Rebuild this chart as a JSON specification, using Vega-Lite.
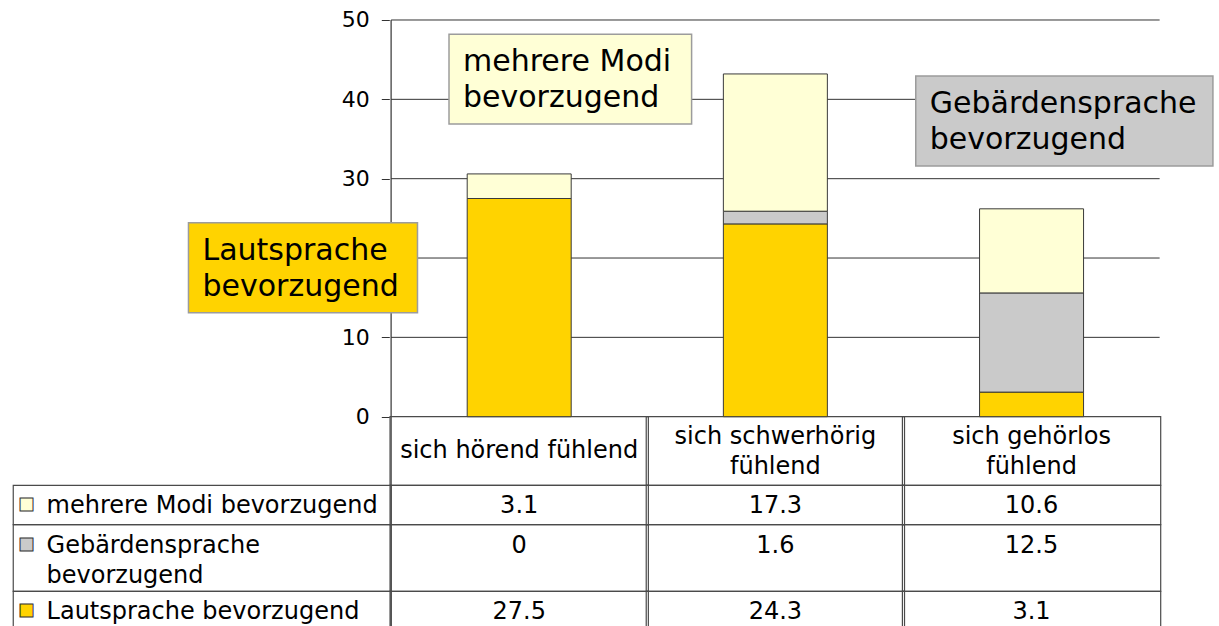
{
  "$schema": "https://vega.github.io/schema/vega-lite/v6.json",
  "width": 1219,
  "height": 626,
  "autosize": {"type": "none"},
  "padding": 0,
  "background": "white",
  "config": {"view": {"stroke": null}, "font": "DejaVu Sans"},
  "datasets": {
    "werte": [
      {"gruppe": "sich hörend fühlend", "reihe": "Lautsprache bevorzugend", "wert": 27.5},
      {"gruppe": "sich hörend fühlend", "reihe": "Gebärdensprache bevorzugend", "wert": 0},
      {"gruppe": "sich hörend fühlend", "reihe": "mehrere Modi bevorzugend", "wert": 3.1},
      {"gruppe": "sich schwerhörig fühlend", "reihe": "Lautsprache bevorzugend", "wert": 24.3},
      {"gruppe": "sich schwerhörig fühlend", "reihe": "Gebärdensprache bevorzugend", "wert": 1.6},
      {"gruppe": "sich schwerhörig fühlend", "reihe": "mehrere Modi bevorzugend", "wert": 17.3},
      {"gruppe": "sich gehörlos fühlend", "reihe": "Lautsprache bevorzugend", "wert": 3.1},
      {"gruppe": "sich gehörlos fühlend", "reihe": "Gebärdensprache bevorzugend", "wert": 12.5},
      {"gruppe": "sich gehörlos fühlend", "reihe": "mehrere Modi bevorzugend", "wert": 10.6}
    ],
    "gruppen": [
      {"gruppe": "sich hörend fühlend", "spalte": 1, "kopf": "sich hörend fühlend"},
      {"gruppe": "sich schwerhörig fühlend", "spalte": 2, "kopf": "sich schwerhörig\nfühlend"},
      {"gruppe": "sich gehörlos fühlend", "spalte": 3, "kopf": "sich gehörlos\nfühlend"}
    ],
    "zeilen": [
      {"reihe": "mehrere Modi bevorzugend", "nr": 1, "beschriftung": "mehrere Modi bevorzugend", "oben": -8.65, "unten": -13.61},
      {"reihe": "Gebärdensprache bevorzugend", "nr": 2, "beschriftung": "Gebärdensprache\nbevorzugend", "oben": -13.61, "unten": -22.01},
      {"reihe": "Lautsprache bevorzugend", "nr": 3, "beschriftung": "Lautsprache bevorzugend", "oben": -22.01, "unten": -27.5}
    ],
    "hinweise": [
      {"reihe": "mehrere Modi bevorzugend", "text": "mehrere Modi\nbevorzugend", "links": 0.726, "rechts": 1.673, "oben": 48.2, "unten": 36.89},
      {"reihe": "Gebärdensprache bevorzugend", "text": "Gebärdensprache\nbevorzugend", "links": 2.548, "rechts": 3.708, "oben": 42.94, "unten": 31.6},
      {"reihe": "Lautsprache bevorzugend", "text": "Lautsprache\nbevorzugend", "links": -0.291, "rechts": 0.603, "oben": 24.45, "unten": 13.11}
    ],
    "gitter": [
      {"linie": 10}, {"linie": 20}, {"linie": 30}, {"linie": 40}, {"linie": 50}
    ]
  },
  "layer": [
    {
      "data": {"name": "gitter"},
      "mark": {"type": "rule", "color": "#333333", "strokeWidth": 1},
      "encoding": {
        "x": {"datum": 0.5, "type": "quantitative", "scale": {"domain": [-1.0072, 3.7122], "nice": false, "zero": false}, "axis": null},
        "x2": {"datum": 3.5},
        "y": {
          "field": "linie", "type": "quantitative",
          "scale": {"domain": [-26.38, 52.52], "nice": false, "zero": false},
          "axis": {"values": [0, 10, 30, 40, 50], "offset": -389.3, "domain": false, "grid": false, "ticks": true, "tickSize": 8, "tickColor": "#333333", "tickWidth": 1, "labelFont": "DejaVu Sans", "labelFontSize": 22, "labelColor": "#000000", "labelPadding": 12, "title": null, "format": "d"}
        }
      }
    },
    {
      "data": {"name": "gitter"},
      "transform": [{"filter": "datum.linie == 50"}],
      "mark": {"type": "rule", "color": "#333333", "strokeWidth": 1.2},
      "encoding": {
        "x": {"datum": 0.5, "type": "quantitative"},
        "y": {"field": "linie", "type": "quantitative"},
        "y2": {"datum": -26.38}
      }
    },
    {
      "data": {"name": "gruppen"},
      "mark": {"type": "bar", "width": 258.3, "fill": "transparent", "stroke": "#4a4a4a", "strokeWidth": 1.2},
      "encoding": {
        "x": {"field": "spalte", "type": "quantitative"},
        "y": {"datum": 0, "type": "quantitative"},
        "y2": {"datum": -8.65}
      }
    },
    {
      "data": {"name": "werte"},
      "transform": [
        {"lookup": "gruppe", "from": {"data": {"name": "gruppen"}, "key": "gruppe", "fields": ["spalte"]}},
        {"lookup": "reihe", "from": {"data": {"name": "zeilen"}, "key": "reihe", "fields": ["oben", "unten"]}}
      ],
      "mark": {"type": "bar", "width": 258.3, "fill": "transparent", "stroke": "#4a4a4a", "strokeWidth": 1.2},
      "encoding": {
        "x": {"field": "spalte", "type": "quantitative"},
        "y": {"field": "oben", "type": "quantitative"},
        "y2": {"field": "unten"}
      }
    },
    {
      "data": {"name": "zeilen"},
      "mark": {"type": "rect", "fill": "transparent", "stroke": "#4a4a4a", "strokeWidth": 1.2},
      "encoding": {
        "x": {"datum": -0.975, "type": "quantitative"},
        "x2": {"datum": 0.5},
        "y": {"field": "oben", "type": "quantitative"},
        "y2": {"field": "unten"}
      }
    },
    {
      "data": {"name": "werte"},
      "transform": [
        {"lookup": "gruppe", "from": {"data": {"name": "gruppen"}, "key": "gruppe", "fields": ["spalte"]}},
        {"lookup": "reihe", "from": {"data": {"name": "zeilen"}, "key": "reihe", "fields": ["nr"]}},
        {"filter": "datum.wert > 0"},
        {"stack": "wert", "groupby": ["gruppe"], "sort": [{"field": "nr", "order": "descending"}], "as": ["y0", "y1"]}
      ],
      "mark": {"type": "bar", "width": 104, "stroke": "#3a3a3a", "strokeWidth": 1},
      "encoding": {
        "x": {"field": "spalte", "type": "quantitative"},
        "y": {"field": "y1", "type": "quantitative"},
        "y2": {"field": "y0"},
        "color": {
          "field": "reihe", "type": "nominal",
          "scale": {"domain": ["Lautsprache bevorzugend", "Gebärdensprache bevorzugend", "mehrere Modi bevorzugend"], "range": ["#FFD300", "#CACACA", "#FFFFD6"]},
          "legend": null
        }
      }
    },
    {
      "data": {"name": "hinweise"},
      "mark": {"type": "rect", "stroke": "#9c9c9c", "strokeWidth": 1.5},
      "encoding": {
        "x": {"field": "links", "type": "quantitative"},
        "x2": {"field": "rechts"},
        "y": {"field": "oben", "type": "quantitative"},
        "y2": {"field": "unten"},
        "color": {"field": "reihe", "type": "nominal", "legend": null}
      }
    },
    {
      "data": {"name": "hinweise"},
      "mark": {"type": "text", "align": "left", "baseline": "alphabetic", "dx": 14, "dy": 37, "fontSize": 30, "lineBreak": "\n", "lineHeight": 36, "color": "#000000", "font": "DejaVu Sans"},
      "encoding": {
        "x": {"field": "links", "type": "quantitative"},
        "y": {"field": "oben", "type": "quantitative"},
        "text": {"field": "text"}
      }
    },
    {
      "data": {"name": "gruppen"},
      "transform": [{"filter": "indexof(datum.kopf, '\\n') < 0"}],
      "mark": {"type": "text", "align": "center", "baseline": "middle", "fontSize": 24, "lineBreak": "\n", "lineHeight": 30, "color": "#000000", "font": "DejaVu Sans"},
      "encoding": {
        "x": {"field": "spalte", "type": "quantitative"},
        "y": {"datum": -4.35, "type": "quantitative"},
        "text": {"field": "kopf"}
      }
    },
    {
      "data": {"name": "gruppen"},
      "transform": [{"filter": "indexof(datum.kopf, '\\n') >= 0"}],
      "mark": {"type": "text", "align": "center", "baseline": "middle", "fontSize": 24, "lineBreak": "\n", "lineHeight": 30, "color": "#000000", "font": "DejaVu Sans"},
      "encoding": {
        "x": {"field": "spalte", "type": "quantitative"},
        "y": {"datum": -2.5, "type": "quantitative"},
        "text": {"field": "kopf"}
      }
    },
    {
      "data": {"name": "werte"},
      "transform": [
        {"lookup": "gruppe", "from": {"data": {"name": "gruppen"}, "key": "gruppe", "fields": ["spalte"]}},
        {"lookup": "reihe", "from": {"data": {"name": "zeilen"}, "key": "reihe", "fields": ["oben"]}}
      ],
      "mark": {"type": "text", "align": "center", "baseline": "top", "dy": 9, "fontSize": 24, "color": "#000000", "font": "DejaVu Sans"},
      "encoding": {
        "x": {"field": "spalte", "type": "quantitative"},
        "y": {"field": "oben", "type": "quantitative"},
        "text": {"field": "wert", "type": "quantitative"}
      }
    },
    {
      "data": {"name": "zeilen"},
      "mark": {"type": "text", "align": "left", "baseline": "top", "dy": 9, "fontSize": 24, "lineBreak": "\n", "lineHeight": 30, "color": "#000000", "font": "DejaVu Sans"},
      "encoding": {
        "x": {"datum": -0.845, "type": "quantitative"},
        "y": {"field": "oben", "type": "quantitative"},
        "text": {"field": "beschriftung"}
      }
    },
    {
      "data": {"name": "zeilen"},
      "mark": {"type": "text", "align": "left", "baseline": "top", "dy": 11, "fontSize": 17, "stroke": "#333333", "strokeWidth": 1, "font": "DejaVu Sans"},
      "encoding": {
        "x": {"datum": -0.955, "type": "quantitative"},
        "y": {"field": "oben", "type": "quantitative"},
        "text": {"value": "■"},
        "color": {"field": "reihe", "type": "nominal", "legend": null}
      }
    }
  ]
}
